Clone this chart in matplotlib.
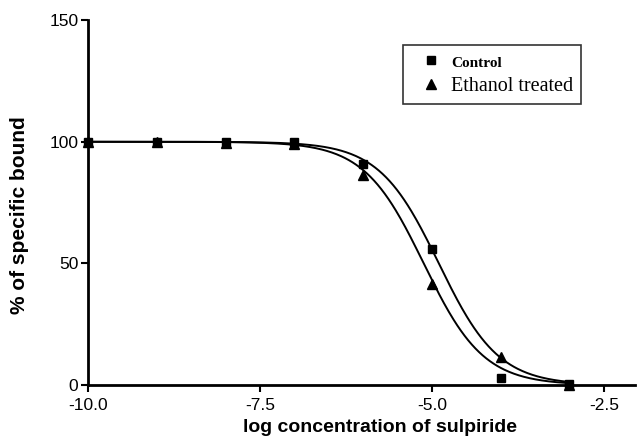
import numpy as np
import matplotlib
matplotlib.use("Agg")
import matplotlib.pyplot as plt
from matplotlib.lines import Line2D

# Data
log_conc = [-10, -9, -8, -7, -6, -5, -4, -3]
control = [100, 100, 100, 100, 91, 56, 3, 0.5]
ethanol = [100, 100, 99.5, 99, 86.5, 41.5, 11.5, 0]

# fitted one-site competition parameters
control_logIC50 = -4.90
ethanol_logIC50 = -5.12
top, bottom, hill = 100.0, 0.0, 1.0

xticks = [-10.0, -7.5, -5.0, -2.5]
yticks = [0, 50, 100, 150]

fig = plt.figure(figsize=(6.38, 4.38), dpi=100)
ax = fig.add_axes([0.138, 0.121, 0.857, 0.833])

xs = np.linspace(-10, -3, 400)
def curve(L):
    return bottom + (top - bottom) / (1 + 10 ** (hill * (xs - L)))

ax.plot(xs, curve(control_logIC50), color="black", lw=1.4, clip_on=False)
ax.plot(xs, curve(ethanol_logIC50), color="black", lw=1.4, clip_on=False)
ax.plot(log_conc, control, ls="none", marker="s", ms=6, color="black", clip_on=False, zorder=5)
ax.plot(log_conc, ethanol, ls="none", marker="^", ms=6.5, color="black", clip_on=False, zorder=5)

ax.set_xlim(-10, -2.05)
ax.set_ylim(0, 150)
ax.set_xticks(xticks)
ax.set_xticklabels([f"{t:.1f}" for t in xticks])
ax.set_yticks(yticks)
for s in ["top", "right"]:
    ax.spines[s].set_visible(False)
for s in ["left", "bottom"]:
    ax.spines[s].set_linewidth(2)
ax.tick_params(direction="out", length=5, width=1.5, labelsize=12.5)
ax.tick_params(axis="x", pad=4)
ax.tick_params(axis="y", pad=2)
for lab in ax.get_xticklabels() + ax.get_yticklabels():
    lab.set_family("Liberation Sans")

fig.text(380 / 638, 1 - 428 / 438, "log concentration of sulpiride", fontsize=14,
         fontweight="bold", family="Liberation Sans", ha="center", va="center")
fig.text(20 / 638, 1 - 215 / 438, "% of specific bound", fontsize=15,
         fontweight="bold", family="Liberation Sans", ha="center", va="center",
         rotation=90)

handles = [Line2D([], [], ls="none", marker="s", ms=6, color="black"),
           Line2D([], [], ls="none", marker="^", ms=6.5, color="black")]
leg = ax.legend(handles, ["Control", "Ethanol treated"], loc="upper left",
                bbox_to_anchor=(0.576, 0.932), frameon=True, fancybox=False,
                edgecolor="black", handlelength=2.0, handletextpad=0.0,
                borderpad=0.4, labelspacing=0.35, borderaxespad=0,
                prop={"family": "Liberation Serif", "size": 14.5})
leg.get_frame().set_linewidth(1.2)
leg.get_texts()[0].set_fontsize(11)
leg.get_texts()[0].set_fontweight("bold")

fig.savefig("out.png", dpi=100)
